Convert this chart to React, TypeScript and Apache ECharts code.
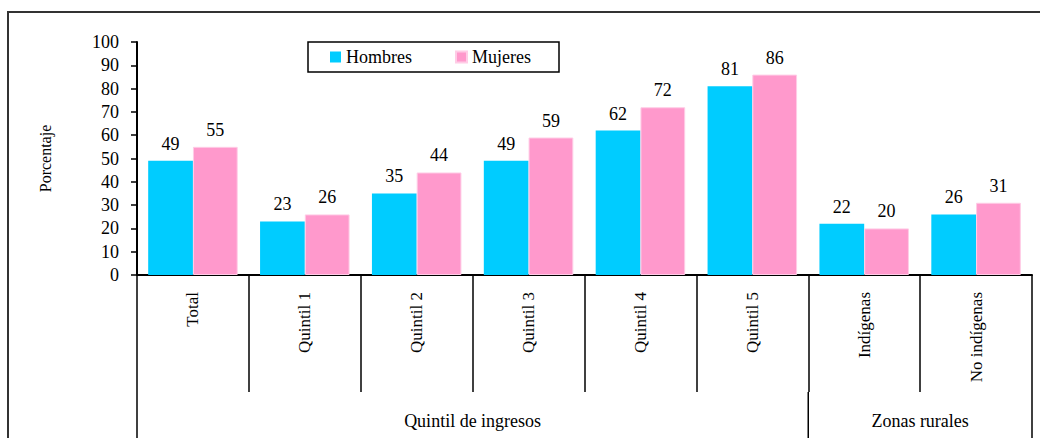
import React, { useEffect, useRef } from "react";
import * as echarts from "echarts";

const categories = ["Total", "Quintil 1", "Quintil 2", "Quintil 3", "Quintil 4", "Quintil 5", "Indígenas", "No indígenas"];
const hombres = [49, 23, 35, 49, 62, 81, 22, 26];
const mujeres = [55, 26, 44, 59, 72, 86, 20, 31];
const groupNames = ["Quintil de ingresos", "Zonas rurales"];
const groupSpans = [6, 2];
const yTicks = { min: 0, max: 100, interval: 10 };
const seriesNames = ["Hombres", "Mujeres"];

const W = 1040;
const H = 438;
const GL = 137;
const GR = 1032;
const GT = 42;
const GB = 275;
const FONT = "Liberation Serif";

export default function App() {
  const ref = useRef<HTMLDivElement>(null);
  useEffect(() => {
    if (!ref.current) return;
    const chart = echarts.init(ref.current, null, { renderer: "svg" });
    const band = (GR - GL) / categories.length;
    const graphics: any[] = [
      {
        type: "rect",
        silent: true,
        shape: { x: 8, y: 12, width: 1200, height: 600 },
        style: { fill: "none", stroke: "#333", lineWidth: 2 },
      },
      {
        type: "rect",
        silent: true,
        shape: { x: 308, y: 42, width: 251, height: 30 },
        style: { fill: "#fff", stroke: "#000", lineWidth: 1.5 },
        z: 1,
      },
    ];
    let idx = 0;
    const bounds = [0];
    groupSpans.forEach((s) => {
      idx += s;
      bounds.push(idx);
    });
    bounds.forEach((b) => {
      graphics.push({
        type: "line",
        silent: true,
        shape: { x1: GL + b * band, y1: 392, x2: GL + b * band, y2: H },
        style: { stroke: "#000", lineWidth: 1.5 },
      });
    });
    groupNames.forEach((g, i) => {
      const cx = GL + ((bounds[i] + bounds[i + 1]) / 2) * band;
      graphics.push({
        type: "text",
        silent: true,
        x: cx,
        y: 421,
        style: {
          text: g,
          fill: "#000",
          fontFamily: FONT,
          fontSize: 18,
          align: "center",
          verticalAlign: "middle",
        },
      });
    });

    chart.setOption({
      animation: false,
      backgroundColor: "#fff",
      textStyle: { fontFamily: FONT },
      grid: { left: GL, right: W - GR, top: GT, bottom: H - GB, containLabel: false },
      legend: {
        data: seriesNames,
        left: 326,
        top: 44,
        padding: [4, 4, 4, 4],
        itemWidth: 11,
        itemHeight: 11,
        itemGap: 43,
        icon: "rect",
        z: 5,
        textStyle: { fontFamily: FONT, fontSize: 18, color: "#000" },
      },
      xAxis: {
        type: "category",
        data: categories,
        axisLine: { show: true, lineStyle: { color: "#000", width: 2 } },
        axisTick: { show: true, interval: 0, length: 117, lineStyle: { color: "#000", width: 1.5 } },
        axisLabel: {
          interval: 0,
          rotate: 90,
          margin: 17,
          color: "#000",
          fontFamily: FONT,
          fontSize: 17,
        },
      },
      yAxis: {
        type: "value",
        min: yTicks.min,
        max: yTicks.max,
        interval: yTicks.interval,
        name: "Porcentaje",
        nameLocation: "middle",
        nameGap: 84,
        nameTextStyle: { color: "#000", fontFamily: FONT, fontSize: 16 },
        axisLine: { show: true, lineStyle: { color: "#000", width: 2 } },
        axisTick: { show: true, length: 6, lineStyle: { color: "#000", width: 1.5 } },
        axisLabel: { color: "#000", fontFamily: FONT, fontSize: 18, margin: 18 },
        splitLine: { show: false },
      },
      series: [
        {
          name: seriesNames[0],
          type: "bar",
          data: hombres,
          barGap: "0%",
          barCategoryGap: "20%",
          itemStyle: { color: "#00CCFF" },
          label: { show: true, position: "top", distance: 8, color: "#000", fontFamily: FONT, fontSize: 18 },
        },
        {
          name: seriesNames[1],
          type: "bar",
          data: mujeres,
          barGap: "0%",
          barCategoryGap: "20%",
          itemStyle: { color: "#FF99CC", borderColor: "#FFCCE6", borderWidth: 1 },
          label: { show: true, position: "top", distance: 8, color: "#000", fontFamily: FONT, fontSize: 18 },
        },
      ],
      graphic: graphics,
    });
    return () => chart.dispose();
  }, []);
  return <div ref={ref} style={{ position: "fixed", left: 0, top: 0, width: W, height: H, background: "#fff" }} />;
}
